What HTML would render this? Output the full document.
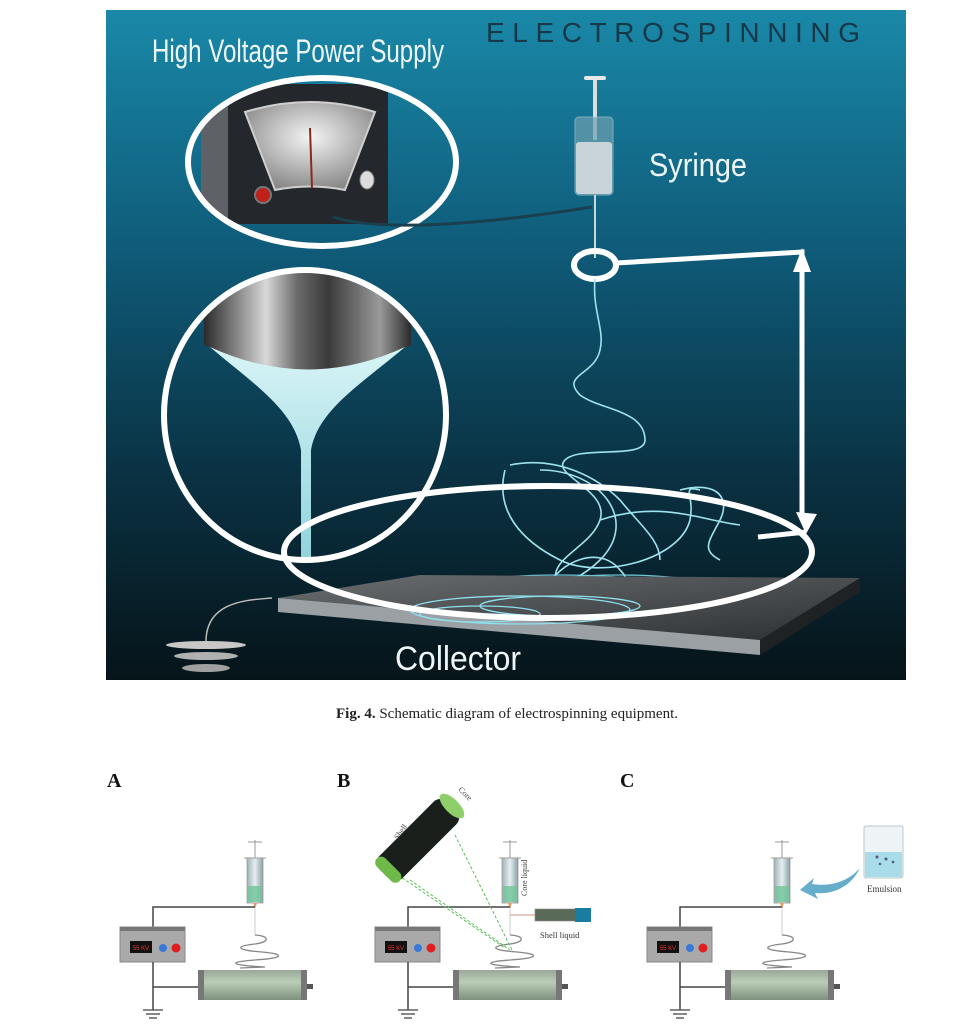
<!DOCTYPE html>
<html><head><meta charset="utf-8"><style>
html,body{margin:0;padding:0;background:#fff;}
svg{display:block;}
</style></head><body>
<svg width="955" height="1030" viewBox="0 0 955 1030" xmlns="http://www.w3.org/2000/svg">
<defs>
<linearGradient id="bg" x1="0" y1="0" x2="0" y2="1">
<stop offset="0" stop-color="#1a88a8"/><stop offset="0.35" stop-color="#0f5c7a"/><stop offset="0.7" stop-color="#0a3142"/><stop offset="1" stop-color="#061419"/>
</linearGradient>
<linearGradient id="metal" x1="0" y1="0" x2="1" y2="0">
<stop offset="0" stop-color="#2a2a2a"/><stop offset="0.3" stop-color="#d8d8d8"/><stop offset="0.45" stop-color="#6a6a6a"/><stop offset="0.6" stop-color="#3a3a3a"/><stop offset="0.85" stop-color="#9a9a9a"/><stop offset="1" stop-color="#2a2a2a"/>
</linearGradient>
<radialGradient id="meter" cx="0.5" cy="0.4" r="0.6">
<stop offset="0" stop-color="#f4f4f4"/><stop offset="1" stop-color="#8a8a8a"/>
</radialGradient>
<linearGradient id="cone" x1="0" y1="0" x2="0" y2="1">
<stop offset="0" stop-color="#d8f4f6"/><stop offset="1" stop-color="#8fd3dc"/>
</linearGradient>
<linearGradient id="plate" x1="0" y1="0" x2="1" y2="1">
<stop offset="0" stop-color="#6a6e70"/><stop offset="1" stop-color="#2c3032"/>
</linearGradient>
<linearGradient id="drum" x1="0" y1="0" x2="0" y2="1">
<stop offset="0" stop-color="#9aa89a"/><stop offset="0.4" stop-color="#b9ceb6"/><stop offset="1" stop-color="#7f907f"/>
</linearGradient>
<linearGradient id="barrel" x1="0" y1="0" x2="1" y2="0">
<stop offset="0" stop-color="#9fb3b8"/><stop offset="0.5" stop-color="#e6eef0"/><stop offset="1" stop-color="#8aa0a6"/>
</linearGradient>
<clipPath id="lclip"><ellipse cx="305" cy="415" rx="140" ry="143"/></clipPath>
<clipPath id="tclip"><ellipse cx="322" cy="162" rx="132" ry="82"/></clipPath>
</defs>

<!-- top picture -->
<rect x="106" y="10" width="800" height="670" fill="url(#bg)"/>
<text x="152" y="62" font-family="Liberation Sans, sans-serif" font-size="32" fill="#eef6f8" textLength="292" lengthAdjust="spacingAndGlyphs">High Voltage Power Supply</text>
<text x="486" y="42" font-family="Liberation Sans, sans-serif" font-size="28" fill="#163848" textLength="380" lengthAdjust="spacing" letter-spacing="6">ELECTROSPINNING</text>

<!-- power supply -->
<g clip-path="url(#tclip)">
<polygon points="201,87 230,84 230,225 201,222" fill="#5e6266"/>
<rect x="228" y="84" width="160" height="140" fill="#24282c"/>
<path d="M245,112 Q310,92 375,112 L345,190 Q310,183 275,190 Z" fill="url(#meter)" stroke="#cfcfcf" stroke-width="2"/>
<line x1="310" y1="128" x2="312" y2="188" stroke="#8a2a1a" stroke-width="2"/>
<circle cx="263" cy="195" r="8" fill="#c0201a" stroke="#777" stroke-width="2"/>
<ellipse cx="367" cy="180" rx="7" ry="9" fill="#dcdcdc" stroke="#888"/>
</g>
<ellipse cx="322" cy="162" rx="134" ry="84" fill="none" stroke="#fff" stroke-width="6"/>
<path d="M333,217 C380,232 480,225 592,207" fill="none" stroke="#1a4050" stroke-width="3"/>

<!-- syringe -->
<rect x="584" y="76" width="22" height="4" rx="2" fill="#e8e8e8"/>
<rect x="593" y="80" width="4" height="60" fill="#ddd"/>
<rect x="575" y="117" width="38" height="78" rx="4" fill="#6ea0b0" opacity="0.7" stroke="#a8c8d0"/>
<rect x="576" y="142" width="36" height="52" rx="3" fill="#c8d4d8"/>
<line x1="595" y1="195" x2="595" y2="258" stroke="#c8d8dc" stroke-width="2"/>
<text x="649" y="176" font-family="Liberation Sans, sans-serif" font-size="32" fill="#eef6f8" textLength="98" lengthAdjust="spacingAndGlyphs">Syringe</text>
<ellipse cx="595" cy="265" rx="21" ry="14" fill="none" stroke="#fff" stroke-width="6"/>
<polyline points="616,263 802,252 802,520" fill="none" stroke="#fff" stroke-width="5"/>
<polygon points="802,248 793,272 811,272" fill="#fff"/>
<polygon points="806,534 796,512 817,514" fill="#fff"/>
<line x1="758" y1="537" x2="806" y2="532" stroke="#fff" stroke-width="5"/>

<!-- fiber -->
<g fill="none" stroke="#9fe3ee" stroke-width="1.6">
<path d="M595,279 C592,310 605,330 600,350 C595,375 560,375 580,395 C600,410 645,410 645,440 C645,460 580,445 565,460 C550,475 610,490 600,520 C590,550 540,560 560,590 C580,610 650,600 620,570 C600,545 560,560 545,590"/>
<path d="M510,465 C560,455 600,480 620,500 C640,525 660,540 660,560"/>
<path d="M505,470 C495,510 520,540 560,560 C600,580 680,560 690,520 C695,495 680,485 700,490"/>
<path d="M540,470 C600,470 640,520 600,560 C570,590 520,600 500,580"/>
<path d="M680,490 C720,480 730,500 720,520 C710,540 700,550 720,560"/>
<path d="M600,520 C660,500 700,520 740,525"/>
</g>
<g fill="none" stroke="#7fd6e6" stroke-width="1.3" opacity="0.9">
<ellipse cx="560" cy="590" rx="110" ry="15"/>
<ellipse cx="600" cy="596" rx="90" ry="12"/>
<ellipse cx="530" cy="600" rx="70" ry="10"/>
<ellipse cx="620" cy="585" rx="80" ry="10"/>
<ellipse cx="580" cy="603" rx="50" ry="8"/>
</g>

<!-- left magnified nozzle -->
<g clip-path="url(#lclip)">
<path d="M204,268 L411,268 L411,345 Q308,395 204,345 Z" fill="url(#metal)"/>
<path d="M210,347 Q308,392 405,347 C360,385 318,410 311,450 L311,560 L301,560 L301,450 C294,410 255,385 210,347 Z" fill="url(#cone)"/>
</g>
<ellipse cx="305" cy="415" rx="141" ry="145" fill="none" stroke="#fff" stroke-width="6"/>

<!-- collector plate -->
<polygon points="278,598 420,575 860,578 760,640" fill="url(#plate)"/>
<polygon points="278,598 760,640 760,655 278,612" fill="#9aa0a4"/>
<polygon points="760,640 860,578 860,592 760,655" fill="#1e2224"/>
<g fill="none" stroke="#8fe0ee" stroke-width="1.3">
<ellipse cx="520" cy="610" rx="110" ry="14"/>
<ellipse cx="560" cy="606" rx="80" ry="10"/>
<ellipse cx="480" cy="614" rx="60" ry="8"/>
</g>
<ellipse cx="548" cy="552" rx="264" ry="66" fill="none" stroke="#fff" stroke-width="6"/>
<text x="395" y="670" font-family="Liberation Sans, sans-serif" font-size="34" fill="#eef6f8" textLength="126" lengthAdjust="spacingAndGlyphs">Collector</text>

<!-- ground -->
<path d="M206,643 C205,600 250,600 272,598" fill="none" stroke="#bbb" stroke-width="1.5"/>
<ellipse cx="206" cy="645" rx="40" ry="4" fill="#c8c8c8"/>
<ellipse cx="206" cy="656" rx="32" ry="4" fill="#b0b0b0"/>
<ellipse cx="206" cy="668" rx="24" ry="4" fill="#a0a0a0"/>

<!-- caption -->
<text x="507" y="718" text-anchor="middle" font-family="Liberation Serif, serif" font-size="15" fill="#222"><tspan font-weight="bold">Fig. 4.</tspan>  Schematic diagram of electrospinning equipment.</text>

<!-- panel labels -->
<g font-family="Liberation Serif, serif" font-weight="bold" font-size="20" fill="#111">
<text x="107" y="787">A</text><text x="337" y="787">B</text><text x="620" y="787">C</text>
</g>

<!-- apparatus template in panels -->
<g id="app">
<g>
<line x1="255" y1="840" x2="255" y2="870" stroke="#999" stroke-width="1"/>
<line x1="248" y1="842" x2="262" y2="842" stroke="#999"/>
<line x1="244" y1="858" x2="266" y2="858" stroke="#999"/>
<rect x="247" y="858" width="16" height="45" fill="url(#barrel)" stroke="#999" stroke-width="0.8"/>
<rect x="248" y="886" width="14" height="16" fill="#6fc49a" opacity="0.8"/>
<polygon points="253,903 257,903 255,909" fill="#e0a060"/>
<line x1="255" y1="909" x2="255" y2="935" stroke="#ccc" stroke-width="1"/>
<path d="M255,935 C270,936 270,942 255,944 C235,946 235,950 262,952 C285,954 285,958 255,960 C228,962 228,965 265,967 L240,968" fill="none" stroke="#888" stroke-width="1.3"/>
<polyline points="255,907 153,907 153,927" fill="none" stroke="#444" stroke-width="1.5"/>
<rect x="120" y="927" width="65" height="35" fill="#a9a9a9" stroke="#888"/>
<rect x="120" y="927" width="65" height="4" fill="#777"/>
<rect x="130" y="941" width="22" height="12" fill="#111"/>
<text x="141" y="950" text-anchor="middle" font-family="Liberation Sans, sans-serif" font-size="6" fill="#e33">55 KV</text>
<circle cx="163" cy="948" r="4" fill="#3a78d8"/>
<circle cx="176" cy="948" r="4.5" fill="#e02020"/>
<polyline points="153,962 153,1010" fill="none" stroke="#444" stroke-width="1.5"/>
<line x1="153" y1="987" x2="198" y2="987" stroke="#444" stroke-width="1.5"/>
<line x1="143" y1="1010" x2="163" y2="1010" stroke="#444" stroke-width="1.3"/>
<line x1="146" y1="1014" x2="160" y2="1014" stroke="#444" stroke-width="1.3"/>
<line x1="149" y1="1018" x2="157" y2="1018" stroke="#444" stroke-width="1.3"/>
<rect x="198" y="970" width="109" height="30" rx="3" fill="url(#drum)"/>
<rect x="198" y="970" width="6" height="30" fill="#777"/>
<rect x="301" y="970" width="6" height="30" fill="#777"/>
<rect x="307" y="984" width="6" height="5" fill="#555"/>
</g>
</g>
<use href="#app" transform="translate(255,0)"/>
<use href="#app" transform="translate(527,0)"/>

<!-- B extras -->
<g stroke="#5bbf5b" stroke-width="1" stroke-dasharray="3,2" fill="none">
<line x1="410" y1="880" x2="510" y2="950"/>
<line x1="455" y1="835" x2="512" y2="950"/>
<line x1="398" y1="875" x2="505" y2="948"/>
</g>
<g transform="translate(418,840) rotate(-45)">
<rect x="-48" y="-16" width="96" height="32" rx="10" fill="#1b1f1b"/>
<ellipse cx="48" cy="0" rx="7" ry="16" fill="#8fcf6a"/>
<rect x="-48" y="-16" width="12" height="32" rx="6" fill="#6fb84a"/>
</g>
<text x="0" y="0" transform="translate(398,840) rotate(-55)" font-family="Liberation Serif, serif" font-size="8" fill="#444">Shell</text>
<text x="0" y="0" transform="translate(458,790) rotate(45)" font-family="Liberation Serif, serif" font-size="8" fill="#444">Core</text>
<text x="0" y="0" transform="translate(527,896) rotate(-90)" font-family="Liberation Serif, serif" font-size="8" fill="#444">Core liquid</text>
<line x1="510" y1="915" x2="535" y2="915" stroke="#d09080" stroke-width="1"/>
<rect x="535" y="909" width="42" height="12" fill="#5a6a58" stroke="#888" stroke-width="0.6"/>
<rect x="575" y="908" width="16" height="14" fill="#1a7ca0"/>
<text x="540" y="938" font-family="Liberation Serif, serif" font-size="8.5" fill="#333">Shell liquid</text>

<!-- C extras -->
<rect x="864" y="826" width="39" height="52" rx="2" fill="#eef4f6" stroke="#bcc8cc"/>
<rect x="865" y="852" width="37" height="25" fill="#a8dce8"/>
<g fill="#557">
<circle cx="877" cy="857" r="1.5"/><circle cx="886" cy="859" r="1.5"/><circle cx="893" cy="862" r="1.3"/><circle cx="880" cy="864" r="1.2"/>
</g>
<text x="867" y="892" font-family="Liberation Serif, serif" font-size="9" fill="#333">Emulsion</text>
<path d="M860,868 C845,885 825,886 812,884 L814,878 L800,890 L818,899 L815,893 C835,895 852,885 860,868 Z" fill="#4a9fc0" opacity="0.85"/>
</svg>
</body></html>
